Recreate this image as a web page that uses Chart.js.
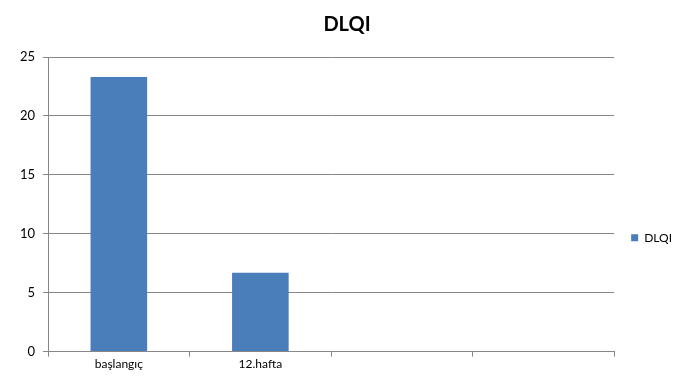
<!DOCTYPE html>
<html>
<head>
<meta charset="utf-8">
<script src="https://cdn.jsdelivr.net/npm/chart.js@4"></script>
<style>
  html, body { margin: 0; padding: 0; background: #fff; }
  #wrap { width: 690px; height: 381px; }
</style>
</head>
<body>
<div id="wrap"><canvas id="dlqi-chart"></canvas></div>
<script>
// values
const categories = ['başlangıç', '12.hafta', '', ''];
const dlqiValues = [23.3, 6.7, null, null];
const seriesName = 'DLQI';
const yTicks = [0, 5, 10, 15, 20, 25];

const axisGrey = '#868686';
const fontFamily = "Lato, 'Open Sans', sans-serif";

new Chart(document.getElementById('dlqi-chart').getContext('2d'), {
  type: 'bar',
  data: {
    labels: categories,
    datasets: [{
      label: seriesName,
      data: dlqiValues,
      backgroundColor: '#4a7ebb',
      borderColor: '#4a7ebb',
      borderWidth: 0,
      categoryPercentage: 1,
      barPercentage: 0.4
    }]
  },
  options: {
    responsive: true,
    maintainAspectRatio: false,
    animation: false,
    layout: { padding: { left: 12, right: 8, top: 0, bottom: 10 } },
    plugins: {
      title: {
        display: true,
        text: 'DLQI',
        color: '#000',
        font: { family: fontFamily, size: 20, weight: 'bold' },
        padding: { top: 13, bottom: 20 }
      },
      legend: {
        display: true,
        position: 'right',
        // blank legend title only pushes the entry down to where Excel put it
        title: {
          display: true,
          text: ' ',
          font: { family: fontFamily, size: 12 },
          padding: { top: 0, bottom: 90 }
        },
        labels: {
          color: '#000',
          font: { family: fontFamily, size: 12 },
          boxWidth: 7,
          boxHeight: 7,
          padding: 17
        }
      },
      tooltip: { enabled: false }
    },
    scales: {
      x: {
        border: { display: true, color: axisGrey },
        grid: {
          offset: true,
          drawOnChartArea: false,
          drawTicks: true,
          tickLength: 5,
          color: axisGrey
        },
        ticks: {
          color: '#000',
          font: { family: fontFamily, size: 12 },
          padding: 0,
          maxRotation: 0
        }
      },
      y: {
        min: 0,
        max: 25,
        afterBuildTicks: axis => { axis.ticks = yTicks.map(v => ({ value: v })); },
        border: { display: true, color: axisGrey },
        grid: { color: axisGrey, tickLength: 5 },
        ticks: {
          color: '#000',
          font: { family: fontFamily, size: 13 },
          padding: 8
        }
      }
    }
  }
});
</script>
</body>
</html>
